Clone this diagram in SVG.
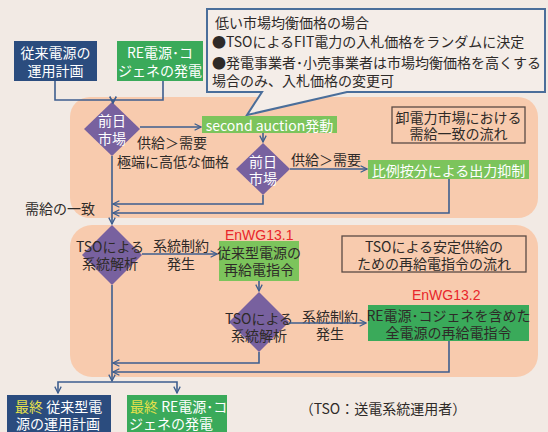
<svg xmlns="http://www.w3.org/2000/svg" width="548" height="432" viewBox="0 0 548 432">
<defs>
<style>
text{font-family:"Noto Sans CJK JP","Noto Sans",sans-serif;font-size:14px;dominant-baseline:central;}
.w{fill:#ffffff;}
.d{fill:#2e2a28;}
.r{fill:#e8262a;font-family:"Liberation Sans","Noto Sans",sans-serif;}
.y{fill:#e6e04a;}
.c{text-anchor:middle;}
.dia{fill:#78619f;}
.blue{fill:#2b4c7e;}
.green{fill:#3aaa5a;}
.lime{fill:#7cc45c;}
.peach{fill:#f8cbae;}
.note{fill:none;stroke:#5a4a44;stroke-width:1.3;}
.con path{fill:none;stroke:#3e5e8e;stroke-width:1.6;marker-end:url(#arr);}
</style>
<marker id="arr" viewBox="0 0 10 10" refX="9" refY="5" markerWidth="8" markerHeight="8" orient="auto" markerUnits="userSpaceOnUse">
<path d="M1,1 L9,5 L1,9" fill="none" stroke="#3e5e8e" stroke-width="1.6"/>
</marker>
</defs>
<rect width="548" height="432" fill="#f2eae4"/>

<g id="region-market">
<rect class="peach" x="70" y="97" width="468" height="121" rx="20"/>
</g>
<g id="region-tso">
<rect class="peach" x="70" y="225" width="468" height="152" rx="22"/>
</g>

<g id="callout">
<path d="M207,9 H545 V92 H347 L247,115 L262,92 H207 Z" fill="#f4ede8" stroke="#4a6e9a" stroke-width="2" stroke-linejoin="miter"/>
<text class="d" x="215" y="22">低い市場均衡価格の場合</text>
<text class="d" x="212" y="41">●TSOによるFIT電力の入札価格をランダムに決定</text>
<text class="d" x="212" y="62">●発電事業者･小売事業者は市場均衡価格を高くする</text>
<text class="d" x="212" y="80">場合のみ、入札価格の変更可</text>
</g>

<g id="conventional-plan">
<rect class="blue" x="14" y="41" width="83" height="40"/>
<text class="w c" x="55.5" y="52">従来電源の</text>
<text class="w c" x="55.5" y="70">運用計画</text>
</g>
<g id="re-generation">
<rect class="green" x="117" y="41" width="86" height="40"/>
<text class="w c" x="160" y="52">RE電源･コ</text>
<text class="w c" x="160" y="70">ジェネの発電</text>
</g>

<g id="dayahead-1">
<polygon class="dia" points="112,102 140,129 112,156 84,129"/>
<text class="w c" x="112" y="120">前日</text>
<text class="w c" x="112" y="138">市場</text>
</g>
<g id="second-auction">
<rect class="lime" x="202" y="116" width="135" height="17"/>
<text class="w c" x="269.5" y="124.5" font-size="13">second auction発動</text>
</g>
<g id="dayahead-2">
<polygon class="dia" points="263,143 290,169 263,195 236,169"/>
<text class="w c" x="263" y="161" font-size="13.5">前日</text>
<text class="w c" x="263" y="178" font-size="13.5">市場</text>
</g>
<g id="curtailment">
<rect class="lime" x="368" y="160" width="161" height="19"/>
<text class="w c" x="448.5" y="169.5">比例按分による出力抑制</text>
</g>
<g id="market-note">
<rect class="note" x="392" y="107" width="133" height="36"/>
<text class="d c" x="458.5" y="117">卸電力市場における</text>
<text class="d c" x="458.5" y="133">需給一致の流れ</text>
</g>

<g id="tso-analysis-1">
<polygon class="dia" points="112,225 142,255 112,285 82,255"/>
<text class="d c" x="110" y="246">TSOによる</text>
<text class="d c" x="110" y="263">系統解析</text>
</g>
<g id="redispatch-conventional">
<text class="r" x="225" y="235">EnWG13.1</text>
<rect class="lime" x="219" y="241" width="80" height="40"/>
<text class="d c" x="259" y="252" font-size="13.5">従来型電源の</text>
<text class="d c" x="259" y="269" font-size="13.5">再給電指令</text>
</g>
<g id="tso-analysis-2">
<polygon class="dia" points="259,292 289,322 259,352 229,322"/>
<text class="d c" x="259" y="318">TSOによる</text>
<text class="d c" x="259" y="335">系統解析</text>
</g>
<g id="redispatch-all">
<text class="r" x="412" y="295">EnWG13.2</text>
<rect class="green" x="368" y="305" width="161" height="36"/>
<text class="d c" x="448.5" y="315">RE電源･コジェネを含めた</text>
<text class="d c" x="448.5" y="332">全電源の再給電指令</text>
</g>
<g id="tso-note">
<rect class="note" x="342" y="236" width="184" height="36"/>
<text class="d c" x="434" y="246">TSOによる安定供給の</text>
<text class="d c" x="434" y="263">ための再給電指令の流れ</text>
</g>

<g id="final-conventional">
<rect class="blue" x="7" y="395" width="104" height="40"/>
<text x="15" y="406"><tspan class="y">最終</tspan><tspan class="w"> 従来型電</tspan></text>
<text class="w" x="16" y="423">源の運用計画</text>
</g>
<g id="final-re">
<rect class="green" x="127" y="395" width="100" height="40"/>
<text x="130" y="406"><tspan class="y">最終</tspan><tspan class="w"> RE電源･コ</tspan></text>
<text class="w" x="129" y="423">ジェネの発電</text>
</g>

<g id="labels">
<text class="d" x="137" y="142">供給＞需要</text>
<text class="d" x="117" y="161">極端に高低な価格</text>
<text class="d" x="291" y="159">供給＞需要</text>
<text class="d" x="25" y="208">需給の一致</text>
<text class="d c" x="181" y="245">系統制約</text>
<text class="d c" x="181" y="263">発生</text>
<text class="d c" x="330" y="316">系統制約</text>
<text class="d c" x="330" y="333">発生</text>
<text class="d c" x="383" y="408" font-size="13.5">（TSO：送電系統運用者）</text>
</g>

<g id="connectors" class="con">
<path d="M55,81 V100 H113 V103"/>
<path d="M163,81 V100 H113 V103"/>
<path d="M140,127 H201"/>
<path d="M263,133 V142"/>
<path d="M290,169 H367"/>
<path d="M449,179 V213 H113"/>
<path d="M263,195 V204 H113"/>
<path d="M112,156 V224"/>
<path d="M142,254 H217"/>
<path d="M259,281 V291"/>
<path d="M289,323 H366"/>
<path d="M449,341 V372 H113"/>
<path d="M259,352 V363 H113"/>
<path d="M112,285 V381"/>
<path d="M112,382 H58 V393"/>
<path d="M112,382 H177 V393"/>
</g>
</svg>
